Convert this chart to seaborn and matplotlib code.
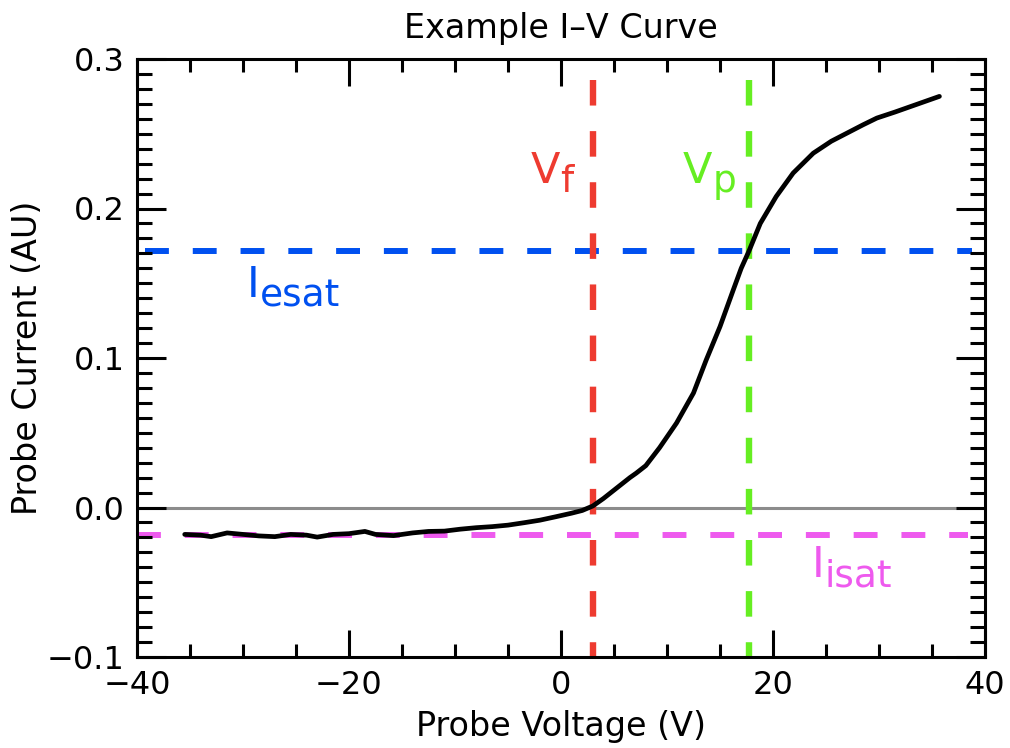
import matplotlib
matplotlib.use("Agg")
import matplotlib.pyplot as plt
import seaborn as sns
import pandas as pd
from matplotlib.ticker import MultipleLocator

# ---- data ----
voltage = [-35.5, -34.0, -33.0, -31.5, -30.0, -28.5, -27.0, -25.5, -24.0, -23.0,
           -21.5, -20.0, -18.5, -17.5, -15.8, -14.0, -12.5, -11.0, -9.5, -8.0,
           -6.5, -5.0, -3.5, -2.0, -0.5, 1.0, 2.0, 3.0, 4.0, 5.25,
           6.5, 7.1, 8.0, 9.3, 10.9, 12.5, 13.7, 15.0, 16.25, 17.0,
           17.7, 18.8, 20.3, 21.9, 23.8, 25.5, 27.0, 28.5, 29.8, 31.5,
           32.9, 34.5, 35.7]
current = [-0.018, -0.0185, -0.0195, -0.017, -0.018, -0.019, -0.0195, -0.018, -0.0185, -0.0198,
           -0.018, -0.0175, -0.016, -0.018, -0.0188, -0.017, -0.016, -0.0158, -0.0145, -0.0135,
           -0.0128, -0.0118, -0.0102, -0.0085, -0.0062, -0.0038, -0.002, 0.001, 0.006, 0.013,
           0.020, 0.023, 0.028, 0.040, 0.0565, 0.0766, 0.0987, 0.121, 0.1455, 0.160,
           0.171, 0.190, 0.208, 0.2237, 0.237, 0.245, 0.2505, 0.256, 0.2605, 0.2645,
           0.268, 0.272, 0.275]

v_float = 3.0
v_plasma = 17.7
i_esat = 0.1716
i_isat = -0.0184

title = "Example I\u2013V Curve"
xlabel = "Probe Voltage (V)"
ylabel = "Probe Current (AU)"

red = "#EE3B30"
green = "#66EE22"
blue = "#0050F0"
magenta = "#EE5AEE"

sns.set_theme(style="ticks")
plt.rcParams["font.family"] = ["DejaVu Sans"]
plt.rcParams["axes.unicode_minus"] = True

fig = plt.figure(figsize=(10.1, 7.48), dpi=100)
ax = fig.add_axes([137 / 1010, 91 / 748, 848 / 1010, 598 / 748])

df = pd.DataFrame({"V": voltage, "I": current})

# reference lines
ax.axhline(0.0, color="#8c8c8c", lw=2.2, zorder=1)
dash = (4, 4)
ax.plot([-39.2, 38.8], [i_esat, i_esat], color=blue, lw=4.3, dashes=dash, zorder=2)
ax.plot([-40, 38.4], [i_isat, i_isat], color=magenta, lw=4.3, dashes=dash, zorder=2)
ax.plot([v_float, v_float], [0.286, -0.1], color=red, lw=4.6, dashes=dash, zorder=2)
ax.plot([v_plasma, v_plasma], [0.286, -0.1], color=green, lw=4.6, dashes=dash, zorder=2)

sns.lineplot(data=df, x="V", y="I", sort=False, color="black", lw=3.4, ax=ax, zorder=3)

ax.set_xlim(-40, 40)
ax.set_ylim(-0.1, 0.3)
ax.xaxis.set_major_locator(MultipleLocator(20))
ax.xaxis.set_minor_locator(MultipleLocator(5))
ax.yaxis.set_major_locator(MultipleLocator(0.1))
ax.yaxis.set_minor_locator(MultipleLocator(0.01))
ax.set_axisbelow(False)

ax.tick_params(which="both", direction="in", top=True, right=True, width=2.2,
               color="black", labelsize=23, pad=9, labelcolor="black")
ax.tick_params(axis="x", which="major", length=19.5)
ax.tick_params(axis="x", which="minor", length=9.5)
ax.tick_params(axis="y", which="major", length=21)
ax.tick_params(axis="y", which="minor", length=11)
for sp in ax.spines.values():
    sp.set_linewidth(2.2)
    sp.set_color("black")
    sp.set_visible(True)

ax.set_xlabel(xlabel, fontsize=24, labelpad=7, color="black")
ax.set_ylabel(ylabel, fontsize=24, labelpad=2, color="black")
ax.set_title(title, fontsize=24, pad=15, color="black")

def sub_label(x, y, main, sub, color):
    t = ax.text(x, y, main, color=color, fontsize=31, ha="left", va="baseline")
    ax.annotate(sub, xy=(1, 0), xycoords=t, xytext=(0, -6), textcoords="offset points",
                color=color, fontsize=27, ha="left", va="bottom")

sub_label(-2.9, 0.217, "V", "f", red)
sub_label(11.5, 0.217, "V", "p", green)
sub_label(-29.6, 0.1408, "I", "esat", blue)
sub_label(23.7, -0.0465, "I", "isat", magenta)

fig.savefig("out.png", dpi=100, facecolor="white")
